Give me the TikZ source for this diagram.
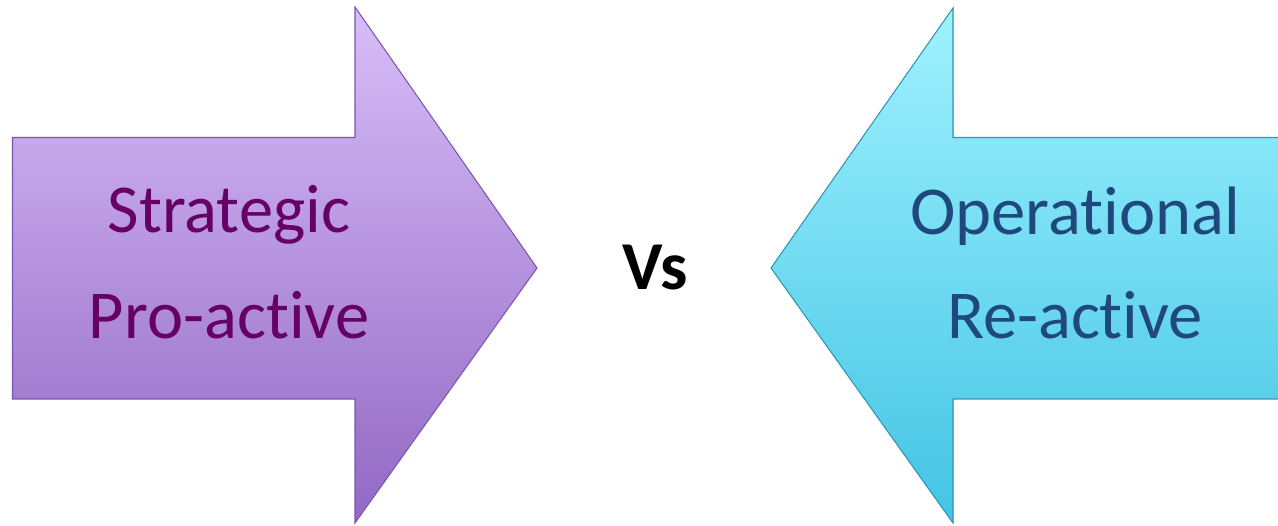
\documentclass[tikz,border=0pt]{standalone}
\usepackage{fontspec}
\setmainfont{Carlito}[RawFeature={-liga;-dlig;-clig;-calt}]
\usepackage{tikz}
\usetikzlibrary{calc}
\definecolor{PurpTop}{RGB}{216,190,248}
\definecolor{PurpBot}{RGB}{146,104,196}
\definecolor{PurpEdge}{RGB}{120,86,170}
\definecolor{PurpText}{RGB}{102,0,102}
\definecolor{CyanTop}{RGB}{160,242,255}
\definecolor{CyanBot}{RGB}{66,196,228}
\definecolor{CyanEdge}{RGB}{50,150,180}
\definecolor{BlueText}{RGB}{31,73,125}

\begin{document}
\begin{tikzpicture}[
  line join=miter,
  every node/.style={font=\fontsize{39}{46}\selectfont, inner sep=0pt},
  arrowshape/.style={line width=0.6pt},
  textline/.style={anchor=base}
]
  \useasboundingbox (0,0) rectangle (25.56,10.52);

  % Left arrow (pointing right)
  \coordinate (l0) at ( 0.25, 7.77);
  \coordinate (l1) at ( 7.10, 7.77);
  \coordinate (l2) at ( 7.10,10.38);
  \coordinate (l3) at (10.74, 5.16);
  \coordinate (l4) at ( 7.10, 0.06);
  \coordinate (l5) at ( 7.10, 2.54);
  \coordinate (l6) at ( 0.25, 2.54);

  % Right arrow (pointing left, body runs off the page)
  \coordinate (r0) at (25.56, 7.77);
  \coordinate (r1) at (19.06, 7.77);
  \coordinate (r2) at (19.06,10.36);
  \coordinate (r3) at (15.42, 5.16);
  \coordinate (r4) at (19.06, 0.06);
  \coordinate (r5) at (19.06, 2.54);
  \coordinate (r6) at (25.56, 2.54);

  \draw[arrowshape, draw=PurpEdge, top color=PurpTop, bottom color=PurpBot]
    (l0) -- (l1) -- (l2) -- (l3) -- (l4) -- (l5) -- (l6) -- cycle;
  \fill[top color=CyanTop, bottom color=CyanBot]
    (r0) -- (r1) -- (r2) -- (r3) -- (r4) -- (r5) -- (r6) -- cycle;
  \draw[arrowshape, draw=CyanEdge]
    (r0) -- (r1) -- (r2) -- (r3) -- (r4) -- (r5) -- (r6);

  % Labels
  \node[textline, text=PurpText] (strat)  at ( 4.58,5.86) {Strategic};
  \node[textline, text=PurpText] (proact) at ( 4.58,3.74) {Pro-active};
  \node[textline, text=BlueText] (oper)   at (21.50,5.82) {Operational};
  \node[textline, text=BlueText] (react)  at (21.50,3.74) {Re-active};
  \node[textline, font=\fontsize{39}{46}\selectfont\bfseries] (vs) at (13.10,4.72) {Vs};
\end{tikzpicture}
\end{document}
